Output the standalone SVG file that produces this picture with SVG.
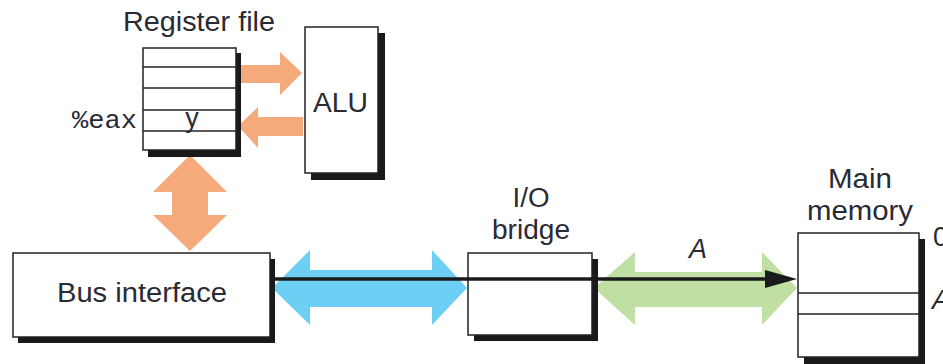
<svg xmlns="http://www.w3.org/2000/svg" width="943" height="364" viewBox="0 0 943 364">
<style>
.box{fill:#fff;stroke:#222;stroke-width:1.5}
.sh{fill:#1a1a1a}
.t{font-family:"Liberation Sans",Arial,sans-serif;fill:#2a2a35;font-size:27px}
.m{font-family:"Liberation Mono","Courier New",monospace;fill:#2a2a35}
.div{stroke:#222;stroke-width:1.5}
.or{fill:#F5AA7C}
.bl{fill:#6DCFF3}
.gr{fill:#BFE0A2}
</style>
<rect width="943" height="364" fill="#fff"/>
<g id="connectors">
<polygon class="or" points="240,65 280,65 280,52 302,73 280,95 280,83 240,83"/>
<polygon class="or" points="303,117 258,117 258,107 238,126 258,148 258,136 303,136"/>
<polygon class="or" points="190,155 227,192 208,192 208,215 227,215 190,251 153,215 172,215 172,192 153,192"/>
<polygon class="bl" points="272,288 310,250 310,270 432,270 432,250 467,288 432,325 432,307 310,307 310,325"/>
<polygon class="gr" points="594,288 635,252 635,272 762,272 762,252 797,288 762,325 762,307 635,307 635,325"/>
</g>
<g id="register-file">
<text class="t" x="199" y="31" text-anchor="middle" textLength="152" lengthAdjust="spacingAndGlyphs">Register file</text>
<rect class="sh" x="148" y="53" width="93" height="104"/>
<rect class="box" x="143" y="48" width="93" height="102"/>
<line class="div" x1="143" y1="67" x2="236" y2="67"/>
<line class="div" x1="143" y1="88" x2="236" y2="88"/>
<line class="div" x1="143" y1="110" x2="236" y2="110"/>
<line class="div" x1="143" y1="131" x2="236" y2="131"/>
<text class="m" x="137" y="128" font-size="25" text-anchor="end" textLength="65" lengthAdjust="spacingAndGlyphs">%eax</text>
<text class="t" x="192" y="127" font-size="21" text-anchor="middle" fill="#2a3060">y</text>
</g>
<g id="alu">
<rect class="sh" x="311" y="33" width="74" height="147"/>
<rect class="box" x="305" y="27" width="73" height="146"/>
<text class="t" x="340.5" y="112" font-size="30" text-anchor="middle" textLength="55" lengthAdjust="spacingAndGlyphs">ALU</text>
</g>
<g id="bus-interface">
<rect class="sh" x="18" y="259" width="257" height="84"/>
<rect class="box" x="13" y="253" width="257" height="84"/>
<text class="t" x="142" y="302" font-size="29" text-anchor="middle" textLength="170" lengthAdjust="spacingAndGlyphs">Bus interface</text>
</g>
<g id="io-bridge">
<text class="t" x="531" y="207" text-anchor="middle" textLength="37" lengthAdjust="spacingAndGlyphs">I/O</text>
<text class="t" x="531" y="239" text-anchor="middle" textLength="78" lengthAdjust="spacingAndGlyphs">bridge</text>
<rect class="sh" x="474" y="259" width="124" height="82"/>
<rect class="box" x="468" y="253" width="124" height="82"/>
</g>
<g id="main-memory">
<text class="t" x="860" y="188" text-anchor="middle" textLength="64" lengthAdjust="spacingAndGlyphs">Main</text>
<text class="t" x="860" y="220" text-anchor="middle" textLength="106" lengthAdjust="spacingAndGlyphs">memory</text>
<rect class="sh" x="804" y="239" width="121" height="125"/>
<rect class="box" x="798" y="233" width="121" height="124"/>
<line class="div" x1="798" y1="293" x2="919" y2="293"/>
<line class="div" x1="798" y1="314" x2="919" y2="314"/>
<text class="t" x="933" y="246" font-size="20">0</text>
<text class="t" x="932" y="309" font-size="22" font-style="italic">A</text>
</g>
<g id="bus-line">
<line x1="272" y1="279" x2="768" y2="279" stroke="#1a1a1a" stroke-width="3.5"/>
<polygon points="765,270 797,279 765,288" fill="#1a1a1a"/>
<text class="t" x="698" y="258" text-anchor="middle" font-style="italic" font-size="24">A</text>
</g>
</svg>
